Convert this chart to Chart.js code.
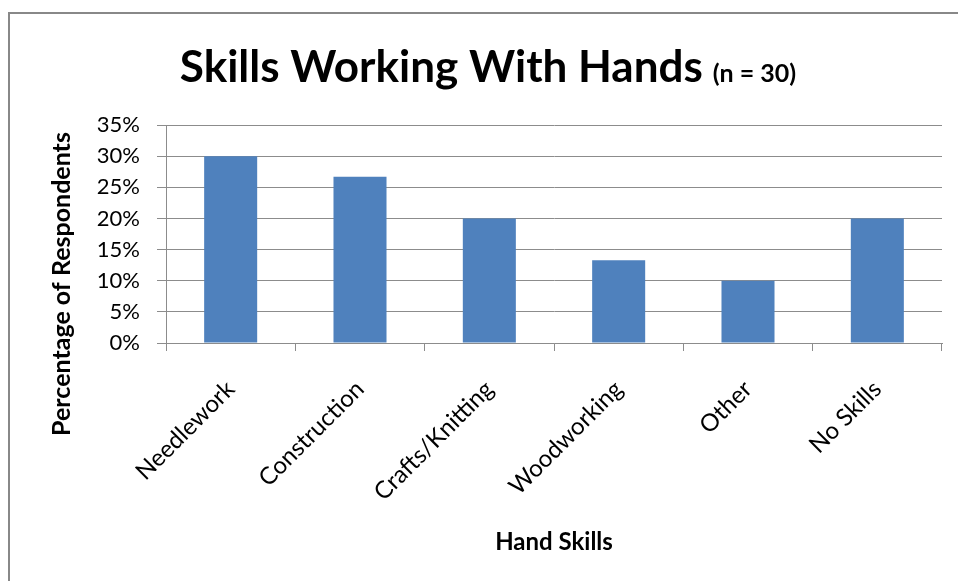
<!DOCTYPE html>
<html>
<head>
<meta charset="utf-8">
<script src="https://cdn.jsdelivr.net/npm/chart.js@4"></script>
<style>
  html, body { margin: 0; padding: 0; background: #fff; }
  #wrap { width: 958px; height: 581px; }
</style>
</head>
<body>
<div id="wrap"><canvas id="skills-chart" width="958" height="581"></canvas></div>
<script>

const categories = ['Needlework', 'Construction', 'Crafts/Knitting', 'Woodworking', 'Other', 'No Skills'];
const percentRespondents = [30, 26.7, 20, 13.3, 10, 20];   // share of the 30 respondents
const yTickValues = [0, 5, 10, 15, 20, 25, 30, 35];

const titleMain = 'Skills Working With Hands';
const titleNote = '(n = 30)';
const yAxisTitle = 'Percentage of Respondents';
const xAxisTitle = 'Hand Skills';

const FONT = 'Lato, "Open Sans", sans-serif';
const GRID = '#8c8c8c';


// frame, main title and the rotated y axis title
const decorations = {
    id: 'decorations',
    beforeDraw ( chart ) {
        const ctx = chart.ctx;
        ctx.save();
        ctx.strokeStyle = '#888';
        ctx.lineWidth = 2;
        ctx.strokeRect( 9, 13, 1200, 1200 );
        ctx.restore();
    },
    afterDraw ( chart ) {
        const ctx = chart.ctx;
        ctx.save();
        ctx.fillStyle = '#000';
        ctx.textBaseline = 'alphabetic';

        ctx.font = `bold 44px ${FONT}`;
        const w1 = ctx.measureText( titleMain ).width;
        ctx.font = `bold 25px ${FONT}`;
        const w2 = ctx.measureText( titleNote ).width;
        const gap = 10;
        let x = 488 - ( w1 + gap + w2 ) / 2;
        ctx.font = `bold 44px ${FONT}`;
        ctx.fillText( titleMain, x, 82 );
        ctx.font = `bold 25px ${FONT}`;
        ctx.fillText( titleNote, x + w1 + gap, 82 );

        ctx.translate( 62, 284 );
        ctx.rotate( -Math.PI / 2 );
        ctx.textAlign = 'center';
        ctx.textBaseline = 'middle';
        ctx.font = `bold 25px ${FONT}`;
        ctx.fillText( yAxisTitle, 0, 0 );
        ctx.restore();
    }
};


function buildChart() {
    const ctx = document.getElementById('skills-chart').getContext('2d');

    new Chart( ctx, {
        type: 'bar',
        data: {
            labels: categories,
            datasets: [ {
                data: percentRespondents,
                backgroundColor: '#4f81bd',
                borderWidth: 0,
                categoryPercentage: 1,
                barPercentage: 0.41
            } ]
        },
        plugins: [ decorations ],
        options: {
            responsive: false,
            animation: false,
            layout: { padding: { left: 0, top: 125, right: 16, bottom: 0 } },
            plugins: {
                legend: { display: false },
                title: { display: false },
                tooltip: { enabled: false }
            },
            scales: {
                x: {
                    grid: {
                        offset: true,
                        drawOnChartArea: false,
                        color: GRID,
                        tickLength: 8
                    },
                    border: { color: GRID, width: 1 },
                    ticks: {
                        color: '#000',
                        font: { family: FONT, size: 24 },
                        minRotation: 45,
                        maxRotation: 45,
                        padding: 24
                    },
                    title: {
                        display: true,
                        text: xAxisTitle,
                        color: '#000',
                        font: { family: FONT, size: 24, weight: 'bold' },
                        padding: { top: 0, bottom: 24 }
                    },
                    afterFit ( scale ) { scale.height = 238; }
                },
                y: {
                    min: 0,
                    max: 35,
                    afterBuildTicks ( scale ) {
                        scale.ticks = yTickValues.map( v => ( { value: v } ) );
                    },
                    grid: {
                        color: GRID,
                        tickLength: 9
                    },
                    border: { color: GRID, width: 1 },
                    ticks: {
                        color: '#000',
                        font: { family: FONT, size: 22 },
                        padding: 17,
                        callback: v => v + '%'
                    },
                    afterFit ( scale ) { scale.width = 166; }
                }
            }
        }
    } );
}

buildChart();
</script>
</body>
</html>
